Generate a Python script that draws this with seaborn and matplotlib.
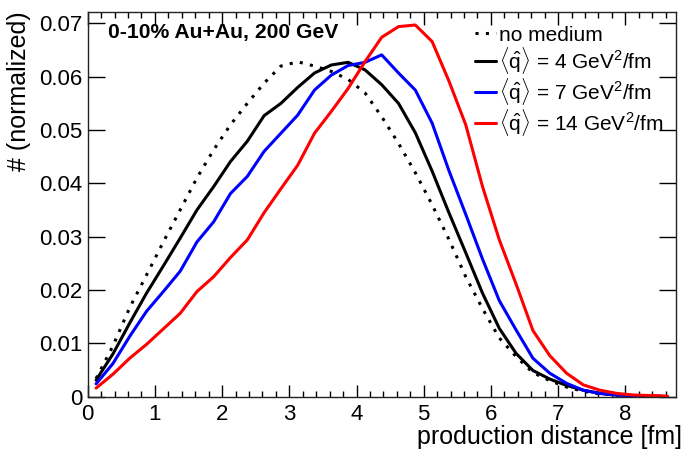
import numpy as np
import pandas as pd
import matplotlib
matplotlib.use('Agg')
import matplotlib.pyplot as plt
import seaborn as sns

# bin centres of the production distance histogram [fm]
dist = [0.125, 0.375, 0.625, 0.875, 1.125, 1.375, 1.625, 1.875, 2.125, 2.375,
        2.625, 2.875, 3.125, 3.375, 3.625, 3.875, 4.125, 4.375, 4.625, 4.875,
        5.125, 5.375, 5.625, 5.875, 6.125, 6.375, 6.625, 6.875, 7.125, 7.375,
        7.625, 7.875, 8.125, 8.375, 8.625]

no_medium = [0.0034, 0.0095, 0.0167, 0.0228, 0.0290, 0.0350, 0.0410, 0.0463, 0.0510, 0.0550,
             0.0588, 0.0620, 0.0628, 0.0620, 0.0610, 0.0595, 0.0570, 0.0525, 0.0475, 0.0420,
             0.0360, 0.0295, 0.0225, 0.0165, 0.0110, 0.0075, 0.0045, 0.0030, 0.0018, 0.0010,
             0.0005, 0.0003, 0.0001, 0.0001, 0.00005]
qhat4 = [0.0031, 0.0080, 0.0138, 0.0194, 0.0245, 0.0297, 0.0350, 0.0394, 0.0441, 0.0479,
         0.0527, 0.0550, 0.0580, 0.0607, 0.0622, 0.0627, 0.0613, 0.0585, 0.0550, 0.0495,
         0.0423, 0.0345, 0.0270, 0.0194, 0.0128, 0.0081, 0.0049, 0.0033, 0.0021, 0.0012,
         0.0006, 0.0003, 0.0002, 0.0001, 0.0]
qhat7 = [0.0024, 0.0062, 0.0113, 0.0160, 0.0197, 0.0235, 0.0290, 0.0328, 0.0381, 0.0413,
         0.0460, 0.0494, 0.0528, 0.0575, 0.0603, 0.0621, 0.0627, 0.0641, 0.0607, 0.0575,
         0.0513, 0.0424, 0.0342, 0.0258, 0.0180, 0.0125, 0.0072, 0.0044, 0.0025, 0.0012,
         0.0006, 0.0003, 0.0002, 0.0001, 0.0]
qhat14 = [0.0016, 0.0042, 0.0072, 0.0098, 0.0127, 0.0156, 0.0197, 0.0225, 0.0261, 0.0294,
          0.0345, 0.0390, 0.0434, 0.0494, 0.0535, 0.0578, 0.0628, 0.0674, 0.0694, 0.0697,
          0.0666, 0.0592, 0.0510, 0.0394, 0.0294, 0.0211, 0.0124, 0.0077, 0.0044, 0.0022,
          0.0012, 0.0006, 0.0003, 0.0002, 0.0001]

labels = ['no medium',
          r'$\langle\hat{\mathrm{q}}\rangle$ = 4 GeV$^{2}$/fm',
          r'$\langle\hat{\mathrm{q}}\rangle$ = 7 GeV$^{2}$/fm',
          r'$\langle\hat{\mathrm{q}}\rangle$ = 14 GeV$^{2}$/fm']
colors = ['black', 'black', '#0000ff', '#ff0000']
styles = [(0, (1, 2.4)), '-', '-', '-']
series = [no_medium, qhat4, qhat7, qhat14]

sns.set_theme(style='ticks')
plt.rcParams['font.family'] = ['Liberation Sans', 'DejaVu Sans']
plt.rcParams['mathtext.fontset'] = 'custom'
plt.rcParams['mathtext.rm'] = 'Liberation Sans'
plt.rcParams['mathtext.it'] = 'Liberation Sans:italic'
for k in ['text.color', 'axes.labelcolor', 'xtick.color', 'ytick.color']:
    plt.rcParams[k] = 'black'

fig = plt.figure(figsize=(7, 4.58), dpi=100)
ax = fig.add_axes([0.1253, 0.134, 0.8400, 0.8405])

for lab, col, ls, ys in zip(labels, colors, styles, series):
    df = pd.DataFrame({'x': dist, 'y': ys})
    sns.lineplot(data=df, x='x', y='y', ax=ax, color=col, linewidth=2.2,
                 label=lab, linestyle=ls)

ax.set_xlim(0, 8.75)
ax.set_ylim(0, 0.0722)
ax.set_xticks(np.arange(0, 9, 1))
ax.set_xticks(np.arange(0, 8.75, 0.2), minor=True)
ax.set_yticks(np.arange(0, 0.0701, 0.01))
ax.set_yticklabels(['0', '0.01', '0.02', '0.03', '0.04', '0.05', '0.06', '0.07'])
ax.tick_params(axis='both', which='both', direction='in', top=True, right=True,
               labelsize=16, width=1)
ax.tick_params(axis='x', which='major', length=9)
ax.tick_params(axis='x', which='minor', length=4.5)
ax.tick_params(axis='y', which='major', length=12)
ax.tick_params(axis='x', pad=5)
for sp in ax.spines.values():
    sp.set_visible(True)
    sp.set_linewidth(1)
    sp.set_color('#222222')

ax.set_xlabel('production distance [fm]', fontsize=18, labelpad=2)
ax.xaxis.set_label_coords(1.01, -0.075)
ax.xaxis.label.set_ha('right')
ax.set_ylabel('# (normalized)', fontsize=18, loc='top', labelpad=6)

ax.text(0.035, 0.945, '0-10% Au+Au, 200 GeV', transform=ax.transAxes,
        fontsize=15.2, fontweight='bold', va='center', ha='left')

leg = ax.legend(loc='upper left', bbox_to_anchor=(0.645, 0.985), frameon=False,
                fontsize=15, handlelength=1.0, handletextpad=0.15,
                labelspacing=0.0, borderaxespad=0.0)

fig.savefig('out.png', dpi=100)
